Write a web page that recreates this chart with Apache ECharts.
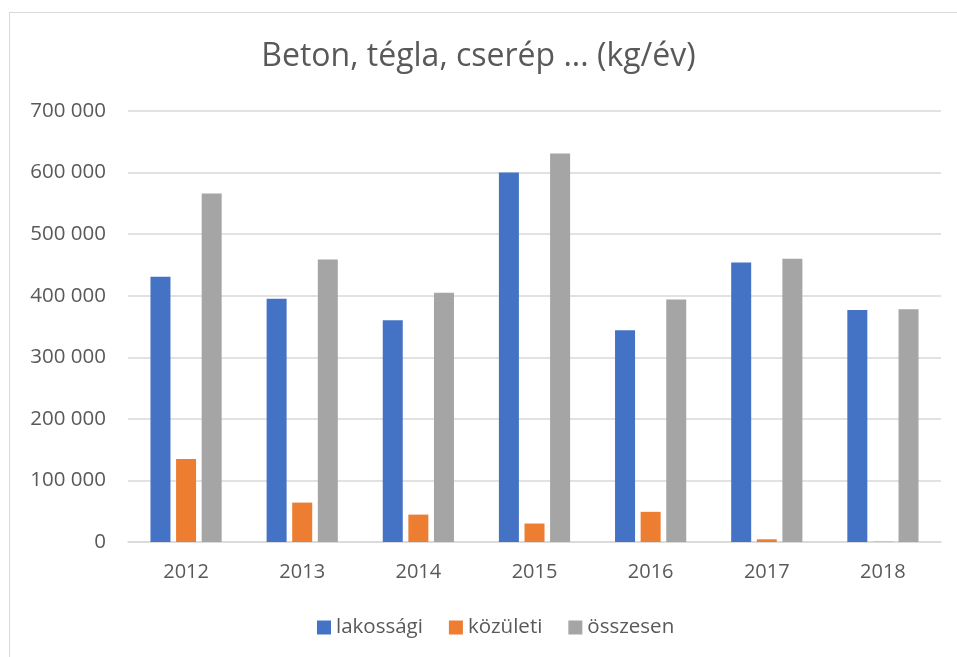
<!DOCTYPE html>
<html>
<head>
<meta charset="utf-8">
<script src="https://cdn.jsdelivr.net/npm/echarts@6/dist/echarts.min.js"></script>
<style>
  html, body { margin: 0; padding: 0; background: #fff; }
  #frame { position: absolute; left: 9px; top: 12px; width: 960px; height: 660px;
           border-left: 1.5px solid #d9d9d9; border-top: 1.5px solid #d9d9d9; }
  #chart { position: absolute; left: 0; top: 0; width: 957px; height: 657px; }
</style>
</head>
<body>
<div id="frame"></div>
<div id="chart"></div>
<script>
// adatok
var years = ['2012', '2013', '2014', '2015', '2016', '2017', '2018'];
var lakossagi = [431000, 395000, 360000, 600000, 344000, 454000, 377000];
var kozuleti = [135000, 64000, 44500, 30000, 49000, 4400, 500];
var osszesen = [566000, 459000, 405000, 631000, 394000, 460000, 378000];
var yTicks = [0, 100000, 200000, 300000, 400000, 500000, 600000, 700000];

var font = '"Open Sans", "DejaVu Sans", sans-serif';

function fmt(v) {
  return String(v).replace(/\B(?=(\d{3})+(?!\d))/g, ' ');
}

function bar(name, data, color) {
  return {
    name: name,
    type: 'bar',
    data: data,
    barWidth: 20,
    barGap: '28%',
    itemStyle: { color: color }
  };
}

var options = {
  backgroundColor: 'transparent',
  animation: false,
  textStyle: { fontFamily: font },
  title: {
    text: 'Beton, tégla, cserép ... (kg/év)',
    left: 'center',
    top: 36,
    textStyle: { fontFamily: font, fontSize: 32, fontWeight: 'normal', color: '#595959' }
  },
  legend: {
    bottom: 14,
    left: 312,
    itemWidth: 14,
    itemHeight: 14,
    itemGap: 26,
    icon: 'rect',
    textStyle: { fontFamily: font, fontSize: 20.5, color: '#595959', padding: [0, 0, 0, 0] },
    data: ['lakossági', 'közületi', 'összesen']
  },
  grid: { left: 128, right: 16, top: 111, bottom: 115 },
  xAxis: {
    type: 'category',
    data: years,
    axisLine: { lineStyle: { color: '#d9d9d9', width: 1.5 } },
    axisTick: { show: false },
    axisLabel: { fontFamily: font, fontSize: 20, color: '#595959', margin: 20 }
  },
  yAxis: {
    type: 'value',
    min: yTicks[0],
    max: yTicks[yTicks.length - 1],
    interval: yTicks[1] - yTicks[0],
    axisLine: { show: false },
    axisTick: { show: false },
    splitLine: { lineStyle: { color: '#d9d9d9', width: 1.5 } },
    axisLabel: { fontFamily: font, fontSize: 20.5, color: '#595959', margin: 22, formatter: fmt }
  },
  series: [
    bar('lakossági', lakossagi, '#4472C4'),
    bar('közületi', kozuleti, '#ED7D31'),
    bar('összesen', osszesen, '#A5A5A5')
  ]
};

var myChart = echarts.init(document.getElementById('chart'));
myChart.setOption(options);
</script>
</body>
</html>
